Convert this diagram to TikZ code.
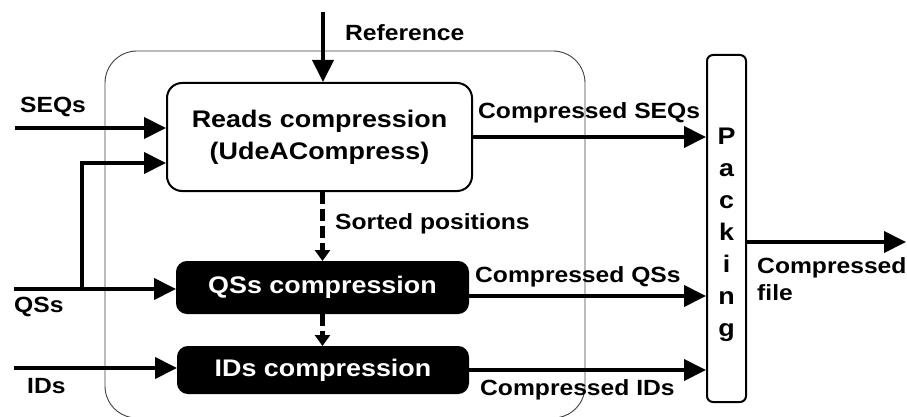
\documentclass[tikz,border=0pt]{standalone}
\usepackage{fontspec}
\newfontfamily\arialx[FakeStretch=1.12]{Liberation Sans}
\usetikzlibrary{arrows.meta}

\tikzset{
  flow/.style={line width=4pt, -{Triangle[length=22pt,width=21pt]}},
  dflow/.style={line width=5pt, dash pattern=on 12pt off 5pt, -{Triangle[length=11pt,width=15pt]}},
  lbl/.style={font=\arialx\bfseries\fontsize{22}{26}\selectfont, inner sep=0pt},
  boxfont/.style={font=\arialx\bfseries\fontsize{24}{32}\selectfont},
  frame/.style={draw=black!75, line width=0.9pt, rounded corners=32pt, inner sep=0pt},
  whitebox/.style={draw, line width=2pt, fill=white, rounded corners=15pt, inner sep=0pt, boxfont, align=center},
  blackbox/.style={draw, line width=2pt, fill=black, text=white, rounded corners=10pt, inner sep=0pt, boxfont},
  packbox/.style={draw, line width=2pt, fill=white, rounded corners=6pt, inner sep=0pt},
}

\begin{document}
\begin{tikzpicture}[x=1pt, y=-1pt]
\useasboundingbox (0,0) rectangle (907,417);

% enclosing compressor frame
\node[frame, minimum width=480pt, minimum height=367pt] (frame) at (345,234.5) {};

% processing blocks
\node[whitebox, minimum width=305pt, minimum height=108pt] (reads) at (319.5,137)
  {Reads compression\\(UdeACompress)};
\node[blackbox, minimum width=291pt, minimum height=51pt] (qs) at (322.5,287.5) {QSs compression};
\node[blackbox, minimum width=290pt, minimum height=46pt] (ids) at (323,370) {IDs compression};
\node[packbox, minimum width=39pt, minimum height=347pt] (pack) at (726.5,228.5) {};
\node[boxfont, align=center, inner sep=0pt, anchor=north] (packtxt) at (726.5,128)
  {P\\a\\c\\k\\i\\n\\g};

% free ends of the inputs and output
\coordinate (refin) at (323,12);
\coordinate (seqin) at (15,128);
\coordinate (qsin) at (14,289);
\coordinate (qsbranch) at (82,289);
\coordinate (idsin) at (14,368);
\coordinate (fileout) at (906,242);

% inputs
\draw[flow] (refin) -- (refin |- reads.north);
\draw[flow] (seqin) -- (seqin -| reads.west);
\draw[flow] (qsin) -- (qsin -| qs.west);
\draw[flow] (qsbranch) |- ([yshift=-26pt]reads.west);
\draw[flow] (idsin) -- (idsin -| ids.west);

% sorted positions passed down
\draw[dflow] (qs.north |- reads.south) -- (qs.north);
\draw[dflow] (qs.south) -- (qs.south |- ids.north);

% compressed streams into packing
\draw[flow] (reads.east) -- (reads.east -| pack.west);
\draw[flow] ([yshift=-8.5pt]qs.east) -- ([yshift=-8.5pt]qs.east -| pack.west);
\draw[flow] (ids.east) -- (ids.east -| pack.west);
\draw[flow] ([yshift=-13.5pt]pack.east) -- (fileout);

% labels
\node[lbl, anchor=base west] (lref) at (345,41) {Reference};
\node[lbl, anchor=base west] (lseq) at (20,113) {SEQs};
\node[lbl, anchor=base west] (lqs) at (14,312) {QSs};
\node[lbl, anchor=base west] (lids) at (27,393) {IDs};
\node[lbl, anchor=base west] (lsort) at (335,229) {Sorted positions};
\node[lbl, anchor=base west] (lcseq) at (478,118) {Compressed SEQs};
\node[lbl, anchor=base west] (lcqs) at (475,282) {Compressed QSs};
\node[lbl, anchor=base west] (lcids) at (480,395) {Compressed IDs};
\node[lbl, anchor=base west] (lfile1) at (757,273) {Compressed};
\node[lbl, anchor=base west] (lfile2) at (757,300) {file};
\end{tikzpicture}
\end{document}
